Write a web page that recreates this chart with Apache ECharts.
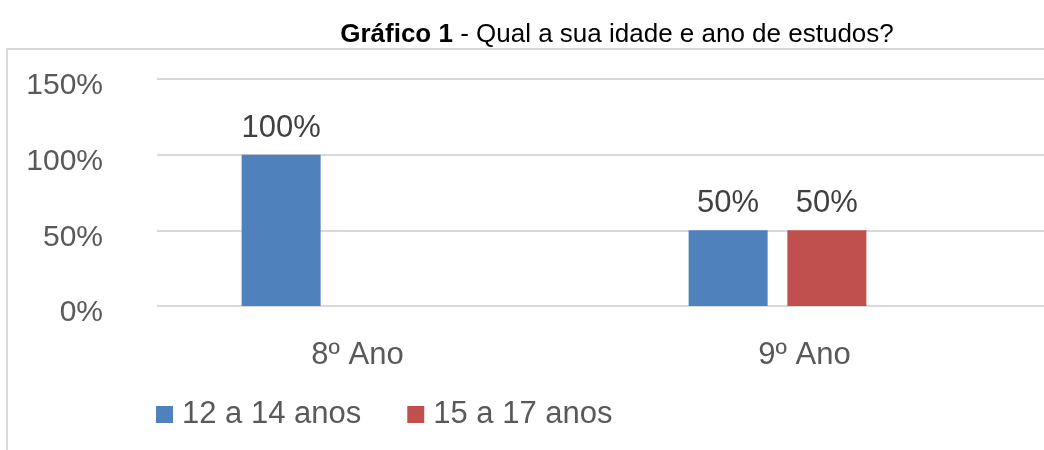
<!DOCTYPE html>
<html>
<head>
<meta charset="utf-8">
<script src="https://cdn.jsdelivr.net/npm/echarts@6/dist/echarts.min.js"></script>
<style>
  html, body { margin: 0; padding: 0; background: #fff; }
  #chart { width: 1044px; height: 450px; }
</style>
</head>
<body>
<div id="chart"></div>
<script>
// dados
const categories = ["8º Ano", "9º Ano"];
const serieNames = ["12 a 14 anos", "15 a 17 anos"];
const idade12a14 = [100, 50];
const idade15a17 = [null, 50];
const yTicks = [0, 50, 100, 150];

const font = "Liberation Sans, Arial, sans-serif";
const chart = echarts.init(document.getElementById("chart"));

const labelPct = {
  show: true,
  position: "top",
  distance: 11,
  color: "#404040",
  fontSize: 31,
  fontFamily: font,
  formatter: function(p) {
    return p.value + "%";
  },
};

const option = {
  animation: false,
  backgroundColor: "#fff",
  color: ["#4F81BD", "#C0504D"],
  title: {
    text: "{b|Gráfico 1} - Qual a sua idade e ano de estudos?",
    left: 612,
    top: 17,
    textAlign: "center",
    textStyle: {
      color: "#000",
      fontSize: 26,
      fontWeight: "normal",
      fontFamily: font,
      rich: {
        b: { fontWeight: "bold", fontSize: 26, fontFamily: font, color: "#000" },
      },
    },
  },
  graphic: [
    {
      type: "rect",
      shape: { x: 7, y: 49, width: 1100, height: 500 },
      style: { fill: "none", stroke: "#d9d9d9", lineWidth: 2 },
      silent: true,
    },
  ],
  legend: {
    data: serieNames,
    left: 156,
    top: 399,
    padding: 0,
    icon: "rect",
    itemWidth: 17,
    itemHeight: 17,
    itemGap: 46,
    textStyle: {
      color: "#595959",
      fontSize: 31,
      fontFamily: font,
      padding: [0, 0, 0, 4],
    },
  },
  grid: [
    // barras
    { left: 107, right: 43, top: 79, bottom: 144 },
    // linhas de grade e rótulos do eixo y
    { left: 157, right: 0, top: 79, bottom: 144 },
  ],
  xAxis: [
    {
      gridIndex: 0,
      type: "category",
      data: categories,
      axisLine: { show: false },
      axisTick: { show: false },
      axisLabel: {
        color: "#595959",
        fontSize: 31,
        fontFamily: font,
        margin: 34,
        padding: [0, 0, 0, 54],
      },
    },
    {
      gridIndex: 1,
      type: "value",
      show: false,
    },
  ],
  yAxis: [
    {
      gridIndex: 0,
      type: "value",
      min: 0,
      max: 150,
      interval: 50,
      show: false,
    },
    {
      gridIndex: 1,
      type: "value",
      min: yTicks[0],
      max: yTicks[yTicks.length - 1],
      interval: 50,
      axisLine: { show: false },
      axisTick: { show: false },
      splitLine: { show: true, lineStyle: { color: "#d9d9d9", width: 2 } },
      axisLabel: {
        color: "#595959",
        fontSize: 30,
        fontFamily: font,
        margin: 54,
        verticalAlign: "top",
        lineHeight: 14,
        formatter: "{value}%",
      },
    },
  ],
  series: [
    {
      name: serieNames[0],
      type: "bar",
      xAxisIndex: 0,
      yAxisIndex: 0,
      barWidth: 79,
      barGap: "25%",
      z: 3,
      label: labelPct,
      data: idade12a14,
    },
    {
      name: serieNames[1],
      type: "bar",
      xAxisIndex: 0,
      yAxisIndex: 0,
      barWidth: 79,
      barGap: "25%",
      z: 3,
      label: labelPct,
      data: idade15a17,
    },
  ],
};
chart.setOption(option);
</script>
</body>
</html>
